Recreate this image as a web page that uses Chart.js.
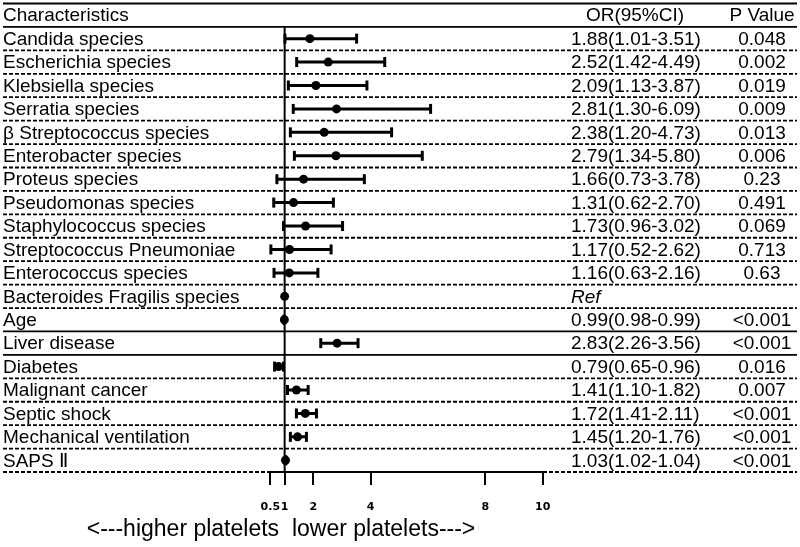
<!DOCTYPE html>
<html><head><meta charset="utf-8">
<script src="https://cdn.jsdelivr.net/npm/chart.js@4.4.1/dist/chart.umd.min.js"></script>
<style>html,body{margin:0;padding:0;background:#fff}</style>
</head><body>
<canvas id="c" width="800" height="547"></canvas>
<script>
const characteristics = [
  'Candida species','Escherichia species','Klebsiella species','Serratia species',
  'β Streptococcus species','Enterobacter species','Proteus species','Pseudomonas species',
  'Staphylococcus species','Streptococcus Pneumoniae','Enterococcus species',
  'Bacteroides Fragilis species','Age','Liver disease','Diabetes','Malignant cancer',
  'Septic shock','Mechanical ventilation','SAPS Ⅱ'
];
const orValues = [1.88,2.52,2.09,2.81,2.38,2.79,1.66,1.31,1.73,1.17,1.16,1.00,0.99,2.83,0.79,1.41,1.72,1.45,1.03];
const ciLower  = [1.01,1.42,1.13,1.30,1.20,1.34,0.73,0.62,0.96,0.52,0.63,null,0.98,2.26,0.65,1.10,1.41,1.20,1.02];
const ciUpper  = [3.51,4.49,3.87,6.09,4.73,5.80,3.78,2.70,3.02,2.62,2.16,null,0.99,3.56,0.96,1.82,2.11,1.76,1.04];
const orText = [
  '1.88(1.01-3.51)','2.52(1.42-4.49)','2.09(1.13-3.87)','2.81(1.30-6.09)','2.38(1.20-4.73)',
  '2.79(1.34-5.80)','1.66(0.73-3.78)','1.31(0.62-2.70)','1.73(0.96-3.02)','1.17(0.52-2.62)',
  '1.16(0.63-2.16)','Ref','0.99(0.98-0.99)','2.83(2.26-3.56)','0.79(0.65-0.96)',
  '1.41(1.10-1.82)','1.72(1.41-2.11)','1.45(1.20-1.76)','1.03(1.02-1.04)'
];
const pValues = ['0.048','0.002','0.019','0.009','0.013','0.006','0.23','0.491','0.069','0.713','0.63','',
  '<0.001','<0.001','0.016','0.007','<0.001','<0.001','<0.001'];
const tickValues = [0.5,1,2,4,8,10];
const tickLabels = ['0.5','1','2','4','8','10'];
const headers = ['Characteristics','OR(95%CI)','P Value'];
const axisCaption = '<---higher platelets  lower platelets--->';
const solidBoundaries = [-1.5,-0.5,12.5,13.5];

const pointData = orValues.map((v,i)=>({x:v,y:i}));
const ciLineData = [];
const capData = [];
ciLower.forEach((lo,i)=>{
  if (lo === null) return;
  ciLineData.push({x:lo,y:i},{x:ciUpper[i],y:i},{x:null,y:null});
  capData.push({x:lo,y:i},{x:ciUpper[i],y:i});
});

const FONT = '"Liberation Sans", Arial, sans-serif';

const tablePlugin = {
  id:'table',
  beforeDatasetsDraw(chart){
    const {ctx} = chart, ys = chart.scales.y, xs = chart.scales.x;
    ctx.save();
    ctx.strokeStyle = '#000';
    ctx.lineWidth = 1.8;
    for (let b=-1.5; b<=18.5; b+=1){
      const py = ys.getPixelForValue(b);
      ctx.setLineDash(solidBoundaries.includes(b) ? [] : [4,2]);
      ctx.beginPath(); ctx.moveTo(3,py); ctx.lineTo(797,py); ctx.stroke();
    }
    ctx.setLineDash([]);
    ctx.lineWidth = 2;
    const px = xs.getPixelForValue(1);
    ctx.beginPath(); ctx.moveTo(px, ys.getPixelForValue(-0.5)); ctx.lineTo(px, chart.chartArea.bottom); ctx.stroke();
    ctx.restore();
  },
  afterDraw(chart){
    const {ctx} = chart, ys = chart.scales.y;
    ctx.save();
    ctx.fillStyle = '#000';
    ctx.textBaseline = 'middle';
    ctx.font = '19px ' + FONT;
    const hy = ys.getPixelForValue(-1) + 0.5;
    ctx.textAlign = 'left'; ctx.fillText(headers[0], 3, hy);
    ctx.textAlign = 'center'; ctx.fillText(headers[1], 635, hy);
    ctx.fillText(headers[2], 762, hy);
    characteristics.forEach((lab,i)=>{
      const py = ys.getPixelForValue(i) + 1;
      ctx.textAlign = 'left';
      ctx.font = '19px ' + FONT;
      ctx.fillText(lab, 3, py);
      ctx.font = (orText[i]==='Ref' ? 'italic ' : '') + '19px ' + FONT;
      ctx.fillText(orText[i], 571, py);
      ctx.font = '19px ' + FONT;
      ctx.textAlign = 'center';
      ctx.fillText(pValues[i], 762, py);
    });
    ctx.font = '23px ' + FONT;
    ctx.textAlign = 'center';
    ctx.fillText(axisCaption, 281, 530);
    ctx.restore();
  }
};

new Chart(document.getElementById('c'), {
  type:'scatter',
  data:{datasets:[
    {label:'OR', data:pointData, pointStyle:'circle', pointRadius:4.5, backgroundColor:'#000', borderWidth:0, order:0, clip:false},
    {label:'caps', data:capData, pointStyle:'line', rotation:90, pointRadius:5, borderColor:'#000', borderWidth:3, order:1, clip:false},
    {label:'CI', data:ciLineData, showLine:true, spanGaps:false, pointRadius:0, borderColor:'#000', borderWidth:3, order:2, clip:false}
  ]},
  options:{
    responsive:false, animation:false, devicePixelRatio:1,
    layout:{autoPadding:false, padding:{left:270.3, right:257.3, top:3.5, bottom:15}},
    plugins:{legend:{display:false}, tooltip:{enabled:false}},
    scales:{
      x:{type:'linear', min:0.5, max:10, position:'bottom',
        afterBuildTicks:s=>{ s.ticks = tickValues.map(v=>({value:v})); },
        afterFit:s=>{ s.height = 60; },
        grid:{drawOnChartArea:false, drawTicks:true, tickLength:13, color:'#000', lineWidth:2},
        border:{display:true, color:'#000', width:2},
        ticks:{autoSkip:false, maxRotation:0, minRotation:0, padding:15.5, color:'#000',
          font:{family:'DejaVu Sans', size:11, weight:'bold'},
          callback:(v,i)=>tickLabels[i]}
      },
      y:{type:'linear', reverse:true, min:-1.5, max:18.5, display:false}
    }
  },
  plugins:[tablePlugin]
});
</script>
</body></html>
